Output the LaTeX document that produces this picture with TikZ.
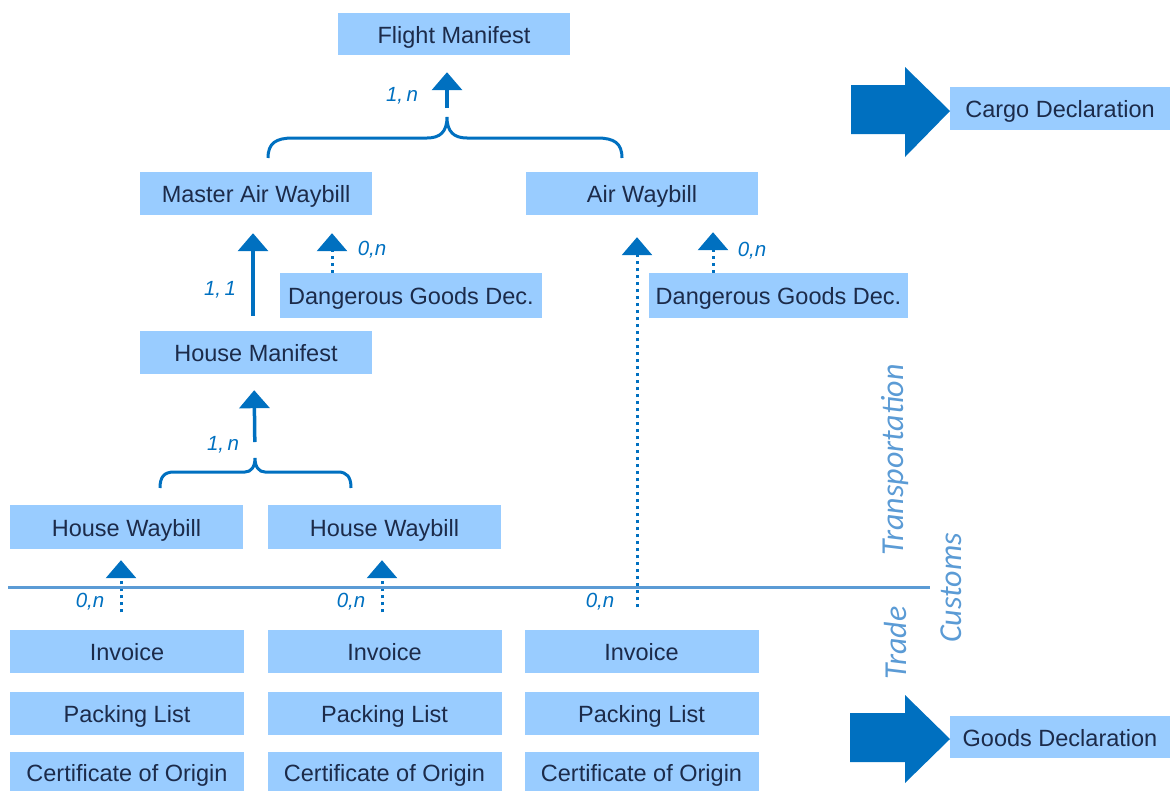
\documentclass[tikz,border=0pt]{standalone}
\usepackage{fontspec}
\setmainfont{Liberation Sans}
\newfontfamily\sidefont{Carlito}
\usetikzlibrary{arrows.meta,calc}
\definecolor{boxblue}{HTML}{99CCFF}
\definecolor{navy}{HTML}{1C2B4A}
\definecolor{arrblue}{HTML}{0070C0}
\definecolor{lineblue}{HTML}{5B9BD5}
\tikzset{
  doc/.style={fill=boxblue, text=navy, inner sep=0pt, minimum width=232pt, minimum height=43pt, text height=18pt, text depth=0pt, font=\fontsize{23.5}{26}\selectfont},
  solidarr/.style={draw=arrblue, line width=3.5pt, -{Triangle[width=30pt,length=18pt]}},
  dotarr/.style={draw=arrblue, line width=3pt, dash pattern=on 3pt off 4pt, -{Triangle[width=30pt,length=18pt]}},
  card/.style={text=arrblue, font=\fontsize{20.5}{22}\selectfont\itshape, inner sep=0pt},
  brace/.style={draw=arrblue, line width=3pt},
  side/.style={text=lineblue, font=\fontsize{32}{34}\selectfont\sidefont\itshape, rotate=90, inner sep=0pt},
  bigarr/.style={fill=arrblue}
}
\begin{document}
\begin{tikzpicture}[x=1pt,y=-1pt]
\useasboundingbox (0,0) rectangle (1172,790);
% boxes
\node[doc, minimum height=42pt] (fm) at (454,34) {Flight Manifest};
\node[doc] (maw) at (256,193.5) {Master Air Waybill};
\node[doc] (awb) at (642,193.5) {Air Waybill};
\node[doc, minimum width=262pt, minimum height=45pt] (dg1) at (411,295.5) {Dangerous Goods Dec.};
\node[doc, minimum width=259pt, minimum height=45pt] (dg2) at (778.5,295.5) {Dangerous Goods Dec.};
\node[doc] (hm) at (256,352.5) {House Manifest};
\node[doc, minimum width=233pt, minimum height=44pt] (hw1) at (126.5,527) {House Waybill};
\node[doc, minimum width=233pt, minimum height=44pt] (hw2) at (384.5,527) {House Waybill};
\node[doc, minimum width=234pt] (inv1) at (127,651) {Invoice};
\node[doc, minimum width=234pt] (inv2) at (384.5,651) {Invoice};
\node[doc, minimum width=234pt] (inv3) at (641.5,651) {Invoice};
\node[doc, minimum width=234pt] (pl1) at (127,713.5) {Packing List};
\node[doc, minimum width=234pt] (pl2) at (384.5,713.5) {Packing List};
\node[doc, minimum width=234pt] (pl3) at (641.5,713.5) {Packing List};
\node[doc, minimum width=234pt, minimum height=40pt] (co1) at (127,772) {Certificate of Origin};
\node[doc, minimum width=234pt, minimum height=40pt] (co2) at (384.5,772) {Certificate of Origin};
\node[doc, minimum width=234pt, minimum height=40pt] (co3) at (641.5,772) {Certificate of Origin};
\node[doc, minimum width=220pt] (cd) at (1060,108.5) {Cargo Declaration};
\node[doc, minimum width=220pt, minimum height=42pt] (gd) at (1060,737) {Goods Declaration};
% braces
\coordinate (b1) at (447,117);
\coordinate (b2) at (255,458);
\draw[brace] (268,158) .. controls (268,143) and (276,138) .. (293,138) -- (427,138)
  .. controls (440,138) and (447,132) .. (b1)
  .. controls (447,132) and (454,138) .. (467,138) -- (597,138)
  .. controls (614,138) and (622,143) .. (622,158);
\draw[brace] (160,488) .. controls (160,477) and (164,472) .. (174,472) -- (245,472)
  .. controls (251,472) and (255,467) .. (b2)
  .. controls (255,467) and (259,472) .. (265,472) -- (338,472)
  .. controls (347,472) and (351,477) .. (351,488);
% connectors
\draw[solidarr, shorten <=9pt, shorten >=17pt] (b1) -- (b1 |- fm.south);
\draw[solidarr, shorten <=15pt, shorten >=18pt] ([xshift=-3pt]hm.north) -- ([xshift=-3pt]maw.south);
\draw[dotarr, shorten >=18pt] ([xshift=-79pt]dg1.north) -- ([xshift=76pt]maw.south);
\draw[dotarr, shorten <=22pt, shorten >=22pt] ([xshift=-4.5pt]inv3.north) -- ([xshift=-5pt]awb.south);
\draw[dotarr, shorten >=17pt] ([xshift=-65.5pt]dg2.north) -- ([xshift=71pt]awb.south);
\draw[solidarr, shorten <=16pt, shorten >=16pt] (b2) -- ([xshift=-2pt]hm.south);
\draw[dotarr, shorten <=17pt, shorten >=11pt] ([xshift=-6pt]inv1.north) -- ([xshift=-5.5pt]hw1.south);
\draw[dotarr, shorten <=17pt, shorten >=11pt] ([xshift=-2.5pt]inv2.north) -- ([xshift=-2.5pt]hw2.south);
% labels
\node[card] (l1) at (402,96) {1,\,n};
\node[card] (l2) at (220,290) {1,\,1};
\node[card] (l3) at (372,250) {0,n};
\node[card] (l4) at (752,251) {0,n};
\node[card] (l5) at (223,445) {1,\,n};
\node[card] (l6) at (90,602) {0,n};
\node[card] (l7) at (351,602) {0,n};
\node[card] (l8) at (600,602) {0,n};
% separator
\draw[lineblue, line width=3pt] (8,587) -- (930,587);
\node[side] (tr) at (895,460) {Transportation};
\node[side] (td) at (895,643) {Trade};
\node[side] (cu) at (951,588) {Customs};
% big arrows
\fill[bigarr] (851,85) -- (905,85) -- (905,67) -- (950,111) -- (905,157) -- (905,134) -- (851,134) -- cycle;
\fill[bigarr] (850,713) -- (905,713) -- (905,695) -- (950,739) -- (905,783) -- (905,762) -- (850,762) -- cycle;
\end{tikzpicture}
\end{document}
